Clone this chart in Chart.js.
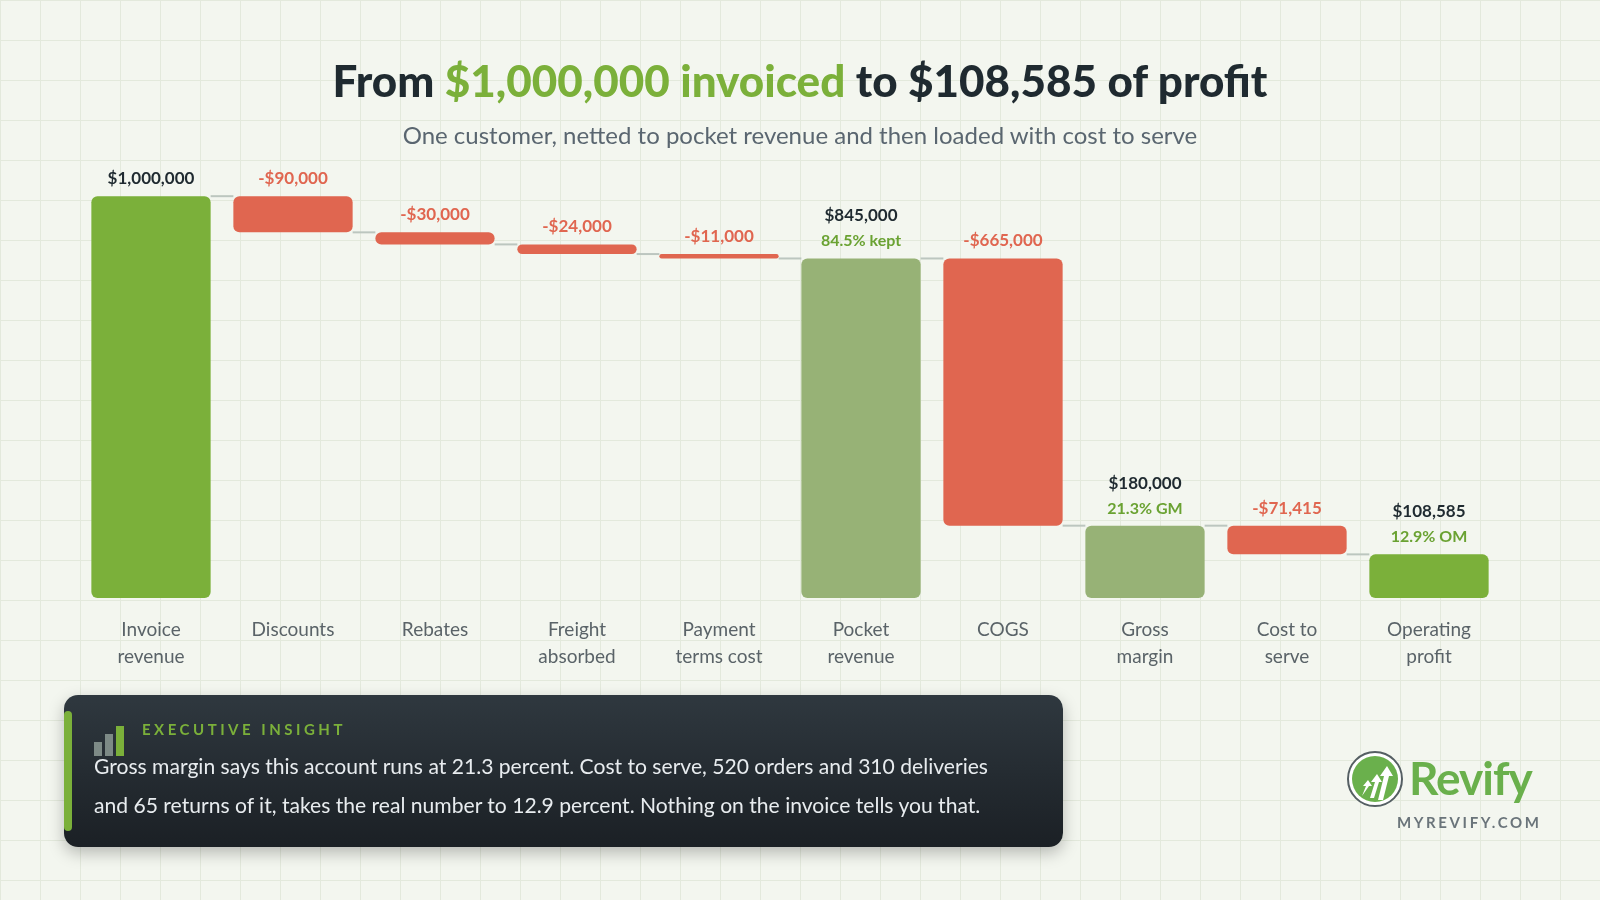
<!DOCTYPE html>
<html><head><meta charset="utf-8">
<script src="https://cdn.jsdelivr.net/npm/chart.js@4"></script>
<style>
html,body{margin:0;padding:0;width:1600px;height:900px;overflow:hidden;font-family:Lato,sans-serif;}
body{background-color:#f3f6ef;background-image:linear-gradient(#e3e9dc 1px,transparent 1px),linear-gradient(90deg,#e3e9dc 1px,transparent 1px);background-size:40px 40px;}
#c{position:absolute;left:0;top:0;}
.title{position:absolute;left:0;width:1600px;top:54px;text-align:center;font-weight:900;font-size:44px;color:#1f2a30;}
.title span{color:#7bb03a;}
.sub{position:absolute;left:0;width:1600px;top:120px;text-align:center;font-size:24px;color:#5a6670;}
.box{position:absolute;left:64px;top:695px;width:999px;height:152px;border-radius:14px;background:linear-gradient(#2f383f,#1b2025);box-shadow:0 6px 16px rgba(0,0,0,0.25);}
.box .bar{position:absolute;left:0;top:16px;width:8px;height:120px;border-radius:4px;background:#7bb03a;}
.box .hd{position:absolute;left:78px;top:25px;font-size:15px;font-weight:700;letter-spacing:3.5px;color:#7bb03a;}
.box .tx{position:absolute;left:30px;top:52px;font-size:21.1px;line-height:38.5px;color:#e8ecef;white-space:nowrap;}
.ic{position:absolute;left:30px;top:31px;}
.ic i{position:absolute;bottom:-30px;width:8px;}
.logo{position:absolute;left:1347px;top:751px;width:56px;height:56px;border-radius:50%;border:2px solid #555f63;box-sizing:border-box;background:#fff;}
.logo div{position:absolute;left:3px;top:3px;width:46px;height:46px;border-radius:50%;background:#6ab04c;}
.rv{position:absolute;left:1409px;top:750px;font-size:46px;font-weight:700;color:#6ab04c;letter-spacing:-1px;}
.url{position:absolute;left:1397px;top:813px;font-size:15px;font-weight:700;letter-spacing:2.6px;color:#6a747a;}
</style></head><body>
<canvas id="c" width="1600" height="900"></canvas>
<div class="title">From <span>$1,000,000 invoiced</span> to $108,585 of profit</div>
<div class="sub">One customer, netted to pocket revenue and then loaded with cost to serve</div>
<div class="box"><div class="bar"></div>
<div class="ic"><i style="left:0;height:14px;background:#7d8a86"></i><i style="left:11px;height:22px;background:#7d8a86"></i><i style="left:22px;height:30px;background:#7bb03a"></i></div>
<div class="hd">EXECUTIVE INSIGHT</div>
<div class="tx">Gross margin says this account runs at 21.3 percent. Cost to serve, 520 orders and 310 deliveries<br>and 65 returns of it, takes the real number to 12.9 percent. Nothing on the invoice tells you that.</div></div>
<div class="logo"><div><svg width="46" height="46" viewBox="0 0 46 46"><path d="M10 40 L14 30 L11 30 L16 24 L20 30 L17 30 Z M18 42 L23 26 L19 26 L25 18 L30 26 L27 26 L22 42 Z M26 44 L32 20 L28 20 L35 10 L41 20 L37 20 L31 44 Z" fill="#fff"/></svg></div></div>
<div class="rv">Revify</div>
<div class="url">MYREVIFY.COM</div>
<script>
const categories=[["Invoice","revenue"],["Discounts"],["Rebates"],["Freight","absorbed"],["Payment","terms cost"],["Pocket","revenue"],["COGS"],["Gross","margin"],["Cost to","serve"],["Operating","profit"]];
const changes=[1000000,-90000,-30000,-24000,-11000,845000,-665000,180000,-71415,108585];
const kinds=["total","delta","delta","delta","delta","subtotal","delta","subtotal","delta","total"];
const subLabels=["","","","","","84.5% kept","","21.3% GM","","12.9% OM"];
const valueLabels=["$1,000,000","-$90,000","-$30,000","-$24,000","-$11,000","$845,000","-$665,000","$180,000","-$71,415","$108,585"];
const colorOf={total:"#7bb03a",subtotal:"#97b276",delta:"#e06650"};
let run=0;const ranges=[];
changes.forEach((v,i)=>{if(kinds[i]==="delta"){ranges.push([run+v,run]);run+=v;}else{ranges.push([0,v]);run=v;}});
const plug={id:"wf",afterDatasetsDraw(ch){const c=ch.ctx,m=ch.getDatasetMeta(0),y=ch.scales.y;
c.save();c.strokeStyle="#bcc6bf";c.lineWidth=2;
for(let i=0;i<m.data.length-1;i++){const a=m.data[i],b=m.data[i+1];const lvl=kinds[i]==="delta"?ranges[i][0]:ranges[i][1];const py=y.getPixelForValue(lvl);c.beginPath();c.moveTo(a.x+a.width/2,py);c.lineTo(b.x-b.width/2,py);c.stroke();}
c.textAlign="center";c.textBaseline="alphabetic";
m.data.forEach((e,i)=>{const top=y.getPixelForValue(Math.max(...ranges[i]));
if(subLabels[i]){c.font="bold 17px Lato";c.fillStyle="#1f2a30";c.fillText(valueLabels[i],e.x,top-37);c.font="bold 16px Lato";c.fillStyle="#6aa232";c.fillText(subLabels[i],e.x,top-12);}
else{c.font="bold 17px Lato";c.fillStyle=kinds[i]==="delta"?"#e06650":"#1f2a30";c.fillText(valueLabels[i],e.x,top-12);}
c.font="19px Lato";c.fillStyle="#5a6368";categories[i].forEach((t,k)=>c.fillText(t,e.x,y.getPixelForValue(0)+38+k*27));});
c.restore();}};
new Chart(document.getElementById("c"),{type:"bar",data:{labels:categories.map(l=>l.join(" ")),datasets:[{data:ranges,backgroundColor:kinds.map(k=>colorOf[k]),borderRadius:6,borderSkipped:false,barPercentage:0.84,categoryPercentage:1}]},
options:{responsive:false,animation:false,layout:{padding:{left:80,right:100,top:156,bottom:302}},plugins:{legend:{display:false},tooltip:{enabled:false}},
scales:{x:{display:false},y:{display:false,min:0,max:1100000}}},plugins:[plug]});
</script></body></html>
